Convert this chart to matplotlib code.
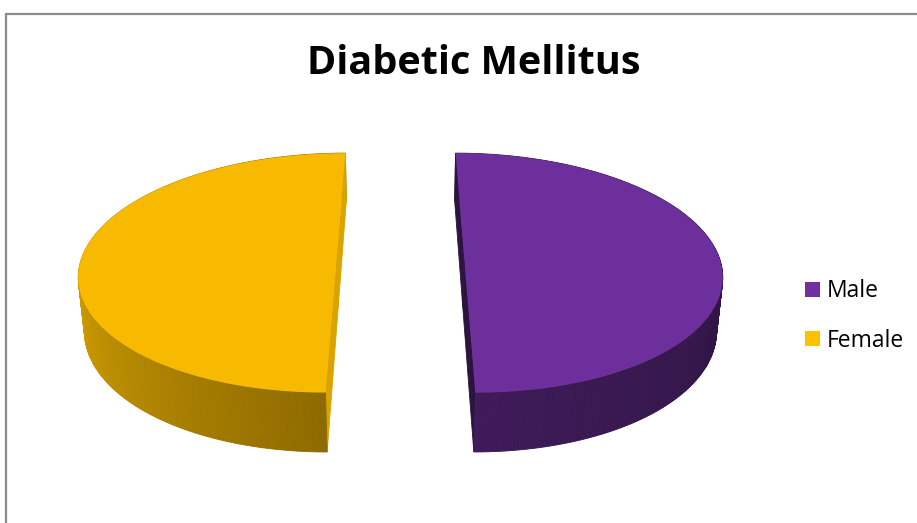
import numpy as np
import matplotlib.pyplot as plt
from matplotlib.colors import to_rgb
from matplotlib.patches import Patch, Polygon, Rectangle

labels = ["Male", "Female"]
values = [50, 50]
colors = ["#7030A0", "#FFC000"]
cut_shade = [0.40, 0.85]  # darkening of the flat cut faces

# 3D pie geometry (radius = 1)
ELEV = np.radians(27.4)
DIST = 5.8
HEIGHT = 0.24
EXPLODE = 0.25
PX = 254.0  # pixels per unit radius


def project(x, y, z):
    v0 = z * np.sin(ELEV) + y * np.cos(ELEV)
    d = z * np.cos(ELEV) - y * np.sin(ELEV)
    s = DIST / (DIST + d)
    return np.column_stack([x * s, v0 * s]), d


def wall_shade(phi_deg):
    # light comes in from the left; walls darken going round the front
    t = np.abs(((phi_deg - 180) + 180) % 360 - 180)
    if t <= 90:
        return 0.86 - 0.305 * t / 90
    return 0.555 - 0.155 * (t - 90) / 90


def shaded(col, f):
    return tuple(np.clip(np.array(to_rgb(col)) * f, 0, 1))


fig = plt.figure(figsize=(9.17, 5.23), dpi=100)
ax = fig.add_axes([0, 0, 1, 1])
ax.set_xlim(-400.5 / PX, 516.5 / PX)
ax.set_ylim(-268.5 / PX, 254.5 / PX)
ax.axis("off")

total = float(sum(values))
start = 90.0
for val, col, cs in zip(values, colors, cut_shade):
    sweep = 360.0 * val / total
    a0, a1 = start - sweep, start
    start = a0
    mid = np.radians((a0 + a1) / 2)
    ox, oz = EXPLODE * np.cos(mid), EXPLODE * np.sin(mid)

    phi_deg = np.linspace(a0, a1, 241)
    phi = np.radians(phi_deg)
    ex, ez = ox + np.cos(phi), oz + np.sin(phi)

    faces = []
    # outer wall, split into thin strips
    for i in range(len(phi) - 1):
        xs = np.array([ex[i], ex[i + 1], ex[i + 1], ex[i]])
        zs = np.array([ez[i], ez[i + 1], ez[i + 1], ez[i]])
        ys = np.array([0, 0, -HEIGHT, -HEIGHT])
        pts, d = project(xs, ys, zs)
        f = wall_shade((phi_deg[i] + phi_deg[i + 1]) / 2)
        faces.append((d.mean(), pts, shaded(col, f)))

    # the two radial cut faces
    for a in (np.radians(a0), np.radians(a1)):
        xs = np.array([ox, ox + np.cos(a), ox + np.cos(a), ox])
        zs = np.array([oz, oz + np.sin(a), oz + np.sin(a), oz])
        ys = np.array([0, 0, -HEIGHT, -HEIGHT])
        pts, d = project(xs, ys, zs)
        faces.append((d.mean(), pts, shaded(col, cs)))

    for _, pts, fc in sorted(faces, key=lambda t: -t[0]):
        ax.add_patch(Polygon(pts, closed=True, facecolor=fc, edgecolor=fc,
                             linewidth=0.6))

    # top face
    tx = np.concatenate([[ox], ex])
    tz = np.concatenate([[oz], ez])
    pts, _ = project(tx, np.zeros_like(tx), tz)
    ax.add_patch(Polygon(pts, closed=True, facecolor=shaded(col, 0.97),
                         edgecolor="none"))

fig.text(474 / 917, 1 - 63 / 523, "Diabetic Mellitus", ha="center",
         va="center", fontsize=28.5, fontweight="bold", family="Open Sans")

handles = [Patch(facecolor=c, edgecolor="none") for c in colors]
fig.legend(handles, labels, loc="center left",
           bbox_to_anchor=(796 / 917, 1 - 316 / 523), frameon=False,
           prop={"family": "Open Sans", "size": 16.5},
           handlelength=0.66, handleheight=0.66, handletextpad=0.3,
           labelspacing=1.1, borderaxespad=0)

# chart area border
fig.patches.append(Rectangle((6 / 917, -0.05), 1.0, 1 - 14 / 523 + 0.05,
                             transform=fig.transFigure, fill=False,
                             edgecolor="#8c8c8c", linewidth=1.6))

fig.savefig("out.png", dpi=100)
